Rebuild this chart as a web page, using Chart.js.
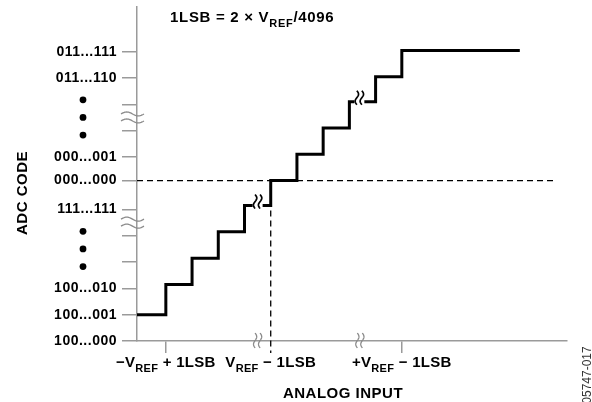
<!DOCTYPE html>
<html>
<head>
<script src="https://cdn.jsdelivr.net/npm/chart.js@4"></script>
<style>
    body { margin: 0; background: #fff; }
    #wrap { width: 592px; height: 402px; }
</style>
</head>
<body>
<div id="wrap"><canvas id="adcChart" width="592" height="402"></canvas></div>
<script>
    // staircase: x = input in LSB steps, y = code index (0 = 100...000)
    const stepX = [-0.1, 1, 2, 3, 4, 5, 6, 7, 8, 9, 10, 14.5];
    const stepY = [1, 2.15, 3.15, 4.15, 5.15, 6.1, 7.1, 8.1, 9.1, 10.05, 11.05, 11.05];

    const codeTicks = [0, 1, 2, 3, 4, 5, 6.1, 7, 8, 9, 10, 11];
    const codeLabels = ['100...000', '100...001', '100...010', '', '', '111...111',
                        '000...000', '000...001', '', '', '011...110', '011...111'];

    const inputTicks = [1, 5, 10];
    // [text, subscript, text]
    const inputLabels = [
        ['\u2212V', 'REF', ' + 1LSB'],
        ['V', 'REF', ' \u2212 1LSB'],
        ['+V', 'REF', ' \u2212 1LSB']
    ];
    const titleParts = ['1LSB = 2 \u00d7 V', 'REF', '/4096'];

    const zeroCode = 6.1;      // 000...000
    const midInput = 5;        // where the code crosses zero
    const zeroLineEnd = 15.8;
    const dotCodes = [9.17, 8.5, 7.83, 4.17, 3.5, 2.83];
    const axisBreakX = [4.5, 8.4];
    const axisBreakY = [4.5, 8.5];
    const stepBreakX = [4.5, 8.38];
    const stepBreakY = [5.15, 9.1];

    const GRAY = '#9a9a9a';
    const FONT = '"Liberation Sans", Arial, sans-serif';

    function wavyV(ctx, x, y0, y1, amp) {
        ctx.beginPath();
        for (let i = 0; i <= 24; i++) {
            const t = i / 24;
            const px = x + Math.sin(t * Math.PI * 2) * amp;
            const py = y0 + (y1 - y0) * t;
            if (i) ctx.lineTo(px, py); else ctx.moveTo(px, py);
        }
        ctx.stroke();
    }

    function wavyH(ctx, x0, x1, y, amp) {
        ctx.beginPath();
        for (let i = 0; i <= 24; i++) {
            const t = i / 24;
            const px = x0 + (x1 - x0) * t;
            const py = y - Math.sin(t * Math.PI * 2) * amp;
            if (i) ctx.lineTo(px, py); else ctx.moveTo(px, py);
        }
        ctx.stroke();
    }

    function subText(ctx, parts, x, y, size, subSize, center) {
        const main = 'bold ' + size + 'px ' + FONT;
        const sub = 'bold ' + subSize + 'px ' + FONT;
        ctx.font = main; const w0 = ctx.measureText(parts[0]).width;
        ctx.font = sub; const w1 = ctx.measureText(parts[1]).width;
        ctx.font = main; const w2 = ctx.measureText(parts[2]).width;
        let left = center ? x - (w0 + w1 + w2) / 2 : x;
        ctx.textAlign = 'left';
        ctx.textBaseline = 'alphabetic';
        ctx.font = main; ctx.fillText(parts[0], left, y);
        ctx.font = sub; ctx.fillText(parts[1], left + w0, y + 5);
        ctx.font = main; ctx.fillText(parts[2], left + w0 + w1, y);
    }

    const extras = {
        id: 'extras',
        beforeDraw(chart) {
            chart.ctx.letterSpacing = '0.5px';
        },
        afterDraw(chart) {
            const ctx = chart.ctx;
            const xs = chart.scales.x, ys = chart.scales.y;
            const area = chart.chartArea;
            ctx.save();

            // breaks in the staircase
            stepBreakX.forEach((v, i) => {
                const cx = xs.getPixelForValue(v);
                const cy = ys.getPixelForValue(stepBreakY[i]);
                ctx.fillStyle = '#fff';
                ctx.fillRect(cx - 5, cy - 3, 10, 6);
                ctx.strokeStyle = '#000';
                ctx.lineWidth = 1.7;
                wavyV(ctx, cx - 2.5, cy - 11, cy + 3, 1.7);
                wavyV(ctx, cx + 2.5, cy - 11, cy + 3, 1.7);
            });

            // breaks on the axes
            ctx.strokeStyle = '#8a8a8a';
            ctx.lineWidth = 1.3;
            axisBreakX.forEach(v => {
                const cx = xs.getPixelForValue(v);
                wavyV(ctx, cx - 2.5, area.bottom - 8, area.bottom + 7, 1.6);
                wavyV(ctx, cx + 2.5, area.bottom - 8, area.bottom + 7, 1.6);
            });
            axisBreakY.forEach(v => {
                const cy = ys.getPixelForValue(v);
                wavyH(ctx, area.left - 16, area.left + 7, cy - 3.5, 2);
                wavyH(ctx, area.left - 16, area.left + 7, cy + 3.5, 2);
            });

            // ellipsis dots between the code labels
            ctx.fillStyle = '#000';
            dotCodes.forEach(v => {
                ctx.beginPath();
                ctx.arc(area.left - 54, ys.getPixelForValue(v), 3.4, 0, Math.PI * 2);
                ctx.fill();
            });

            // x tick labels with subscripts
            ctx.letterSpacing = '0.3px';
            inputTicks.forEach((v, i) => {
                subText(ctx, inputLabels[i], xs.getPixelForValue(v), area.bottom + 26, 15, 11, true);
            });
            ctx.letterSpacing = '0.7px';
            subText(ctx, titleParts, area.left + 33, 22, 15, 11, false);

            ctx.letterSpacing = '0.5px';
            ctx.font = 'bold 15px ' + FONT;
            ctx.textAlign = 'center';
            ctx.textBaseline = 'alphabetic';
            ctx.fillText('ANALOG INPUT', 343, 398);

            ctx.save();
            ctx.translate(23, 193);
            ctx.rotate(-Math.PI / 2);
            ctx.textBaseline = 'middle';
            ctx.fillText('ADC CODE', 0, 0);
            ctx.restore();

            ctx.save();
            ctx.translate(591, 375);
            ctx.rotate(-Math.PI / 2);
            ctx.letterSpacing = '0px';
            ctx.font = '12px ' + FONT;
            ctx.fillStyle = '#333';
            ctx.textBaseline = 'alphabetic';
            ctx.fillText('05747-017', 0, 0);
            ctx.restore();

            ctx.restore();
        }
    };

    const stairData = stepX.map((x, i) => ({ x: x, y: stepY[i] }));

    new Chart(document.getElementById('adcChart'), {
        type: 'scatter',
        data: {
            datasets: [{
                data: stairData,
                showLine: true,
                stepped: 'before',
                borderColor: '#000',
                borderWidth: 3,
                pointRadius: 0
            }, {
                data: [{ x: -0.1, y: zeroCode }, { x: zeroLineEnd, y: zeroCode }],
                showLine: true,
                borderColor: '#000',
                borderWidth: 1.3,
                borderDash: [6, 4],
                pointRadius: 0
            }, {
                data: [{ x: midInput, y: zeroCode }, { x: midInput, y: -0.46 }],
                showLine: true,
                borderColor: '#000',
                borderWidth: 1.3,
                borderDash: [6, 4],
                pointRadius: 0,
                clip: false
            }]
        },
        options: {
            responsive: false,
            animation: false,
            devicePixelRatio: 1,
            layout: { padding: { top: 7, right: 25, bottom: 0, left: 0 } },
            plugins: { legend: { display: false }, tooltip: { enabled: false } },
            scales: {
                x: {
                    type: 'linear',
                    min: -0.1,
                    max: 16.3,
                    afterBuildTicks: s => { s.ticks = inputTicks.map(v => ({ value: v })); },
                    afterFit: s => { s.height = 61; s.paddingLeft = 0; s.paddingRight = 0; },
                    ticks: { display: false },
                    grid: {
                        drawOnChartArea: false,
                        tickLength: 12,
                        lineWidth: 1.5,
                        color: c => (c.tick && c.tick.value === midInput) ? 'rgba(0,0,0,0)' : GRAY
                    },
                    border: { color: GRAY, width: 1.5 }
                },
                y: {
                    type: 'linear',
                    min: 0,
                    max: 12.7,
                    afterBuildTicks: s => { s.ticks = codeTicks.map(v => ({ value: v })); },
                    afterFit: s => { s.width = 137; s.paddingTop = 0; s.paddingBottom = 0; },
                    ticks: {
                        padding: 5,
                        color: '#000',
                        font: { family: FONT, size: 14, weight: 'bold' },
                        callback: (v, i) => codeLabels[i]
                    },
                    grid: {
                        drawOnChartArea: false,
                        tickLength: 15,
                        lineWidth: 1.5,
                        color: GRAY
                    },
                    border: { color: GRAY, width: 1.5 }
                }
            }
        },
        plugins: [extras]
    });
</script>
</body>
</html>
